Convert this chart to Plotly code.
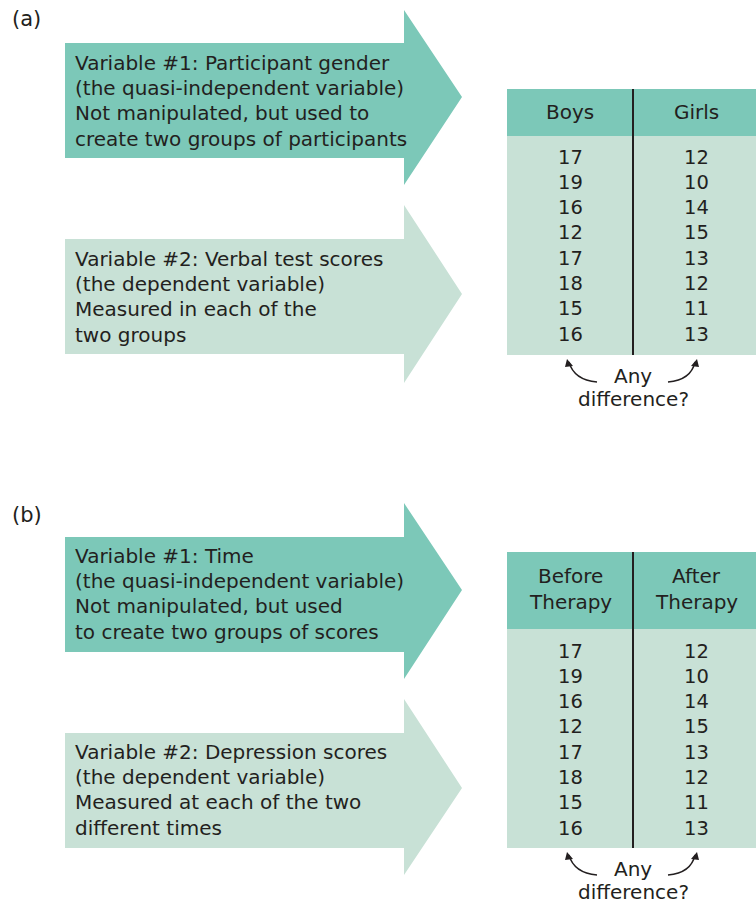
import plotly.graph_objects as go

# ---------------- data ----------------
panel_labels = ["(a)", "(b)"]

a_var1_lines = ["Variable #1: Participant gender",
                "(the quasi-independent variable)",
                "Not manipulated, but used to",
                "create two groups of participants"]
a_var2_lines = ["Variable #2: Verbal test scores",
                "(the dependent variable)",
                "Measured in each of the",
                "two groups"]
b_var1_lines = ["Variable #1: Time",
                "(the quasi-independent variable)",
                "Not manipulated, but used",
                "to create two groups of scores"]
b_var2_lines = ["Variable #2: Depression scores",
                "(the dependent variable)",
                "Measured at each of the two",
                "different times"]

a_headers = [["Boys"], ["Girls"]]
b_headers = [["Before", "Therapy"], ["After", "Therapy"]]

boys = [17, 19, 16, 12, 17, 18, 15, 16]
girls = [12, 10, 14, 15, 13, 12, 11, 13]
before_therapy = [17, 19, 16, 12, 17, 18, 15, 16]
after_therapy = [12, 10, 14, 15, 13, 12, 11, 13]

question_lines = ["Any", "difference?"]

# ---------------- style ----------------
DARK = "#7CC8B8"
LIGHT = "#C8E1D6"
INK = "#231F20"
FONT = "DejaVu Sans"
FS = 20
FS_NUM = 19.5

W, H = 756, 903
fig = go.Figure()
shapes = []
annos = []


def txt(x, y, s, xanchor="left", size=FS):
    annos.append(dict(x=x, y=y, text=s, showarrow=False, xanchor=xanchor,
                      yanchor="middle", font=dict(family=FONT, size=size, color=INK),
                      xref="x", yref="y"))


def arrow(body_top, body_bot, head_top, head_bot, tip_y, color, lines, line_y0):
    x0, xb, xt = 65, 404, 462
    path = (f"M {x0},{body_top} L {xb},{body_top} L {xb},{head_top} L {xt},{tip_y} "
            f"L {xb},{head_bot} L {xb},{body_bot} L {x0},{body_bot} Z")
    shapes.append(dict(type="path", path=path, fillcolor=color, line=dict(width=0),
                       xref="x", yref="y", layer="below"))
    for i, s in enumerate(lines):
        txt(73, line_y0 + i * 25.2, s)


def table(top, head_bot, bot, headers, col1, col2, row_y0, head_y0):
    x0, xm, x1 = 507, 633, 756
    shapes.append(dict(type="rect", x0=x0, x1=x1, y0=top, y1=head_bot, fillcolor=DARK,
                       line=dict(width=0), xref="x", yref="y", layer="below"))
    shapes.append(dict(type="rect", x0=x0, x1=x1, y0=head_bot, y1=bot, fillcolor=LIGHT,
                       line=dict(width=0), xref="x", yref="y", layer="below"))
    shapes.append(dict(type="line", x0=xm, x1=xm, y0=top, y1=bot,
                       line=dict(color=INK, width=2), xref="x", yref="y"))
    cx = [570, 696]
    for c, hdr in enumerate(headers):
        for j, s in enumerate(hdr):
            txt(cx[c], head_y0 + j * 25.5, s, xanchor="center")
    for c, col in enumerate([col1, col2]):
        for i, v in enumerate(col):
            txt(cx[c], row_y0 + i * 25.3, str(v), xanchor="center", size=FS_NUM)
    # "Any difference?" with curved arrows
    ya = bot + 21
    txt(633, ya, question_lines[0], xanchor="center")
    txt(633, ya + 23, question_lines[1], xanchor="center")
    sy = bot + 27
    ey = bot + 4
    shapes.append(dict(type="path", path=f"M 597,{sy} Q 574,{sy-2} 569,{ey+3}",
                       line=dict(color=INK, width=1.4), xref="x", yref="y"))
    shapes.append(dict(type="path", path=f"M 567,{ey} L 565,{ey+8} L 573,{ey+7} Z",
                       fillcolor=INK, line=dict(width=0), xref="x", yref="y"))
    shapes.append(dict(type="path", path=f"M 668,{sy} Q 691,{sy-2} 695,{ey+3}",
                       line=dict(color=INK, width=1.4), xref="x", yref="y"))
    shapes.append(dict(type="path", path=f"M 697,{ey} L 699,{ey+8} L 691,{ey+7} Z",
                       fillcolor=INK, line=dict(width=0), xref="x", yref="y"))


# panel (a)
txt(10, 19, panel_labels[0], size=21)
arrow(43, 158, 10, 185, 97, DARK, a_var1_lines, 63)
arrow(239, 354, 205, 383, 294, LIGHT, a_var2_lines, 259)
table(89, 136, 355, a_headers, boys, girls, 157, 112)

# panel (b)
txt(10, 515, panel_labels[1], size=21)
arrow(537, 652, 503, 679, 590, DARK, b_var1_lines, 556)
arrow(733, 848, 699, 875, 788, LIGHT, b_var2_lines, 752)
table(552, 629, 848, b_headers, before_therapy, after_therapy, 651, 576)

fig.update_layout(
    width=W, height=H, margin=dict(l=0, r=0, t=0, b=0),
    paper_bgcolor="white", plot_bgcolor="white",
    xaxis=dict(range=[0, W], visible=False, fixedrange=True),
    yaxis=dict(range=[H, 0], visible=False, fixedrange=True),
    shapes=shapes, annotations=annos, showlegend=False,
)
fig.write_html("out.html", config={"displayModeBar": False},
               post_script="document.body.style.margin='0';document.body.style.overflow='hidden';")
